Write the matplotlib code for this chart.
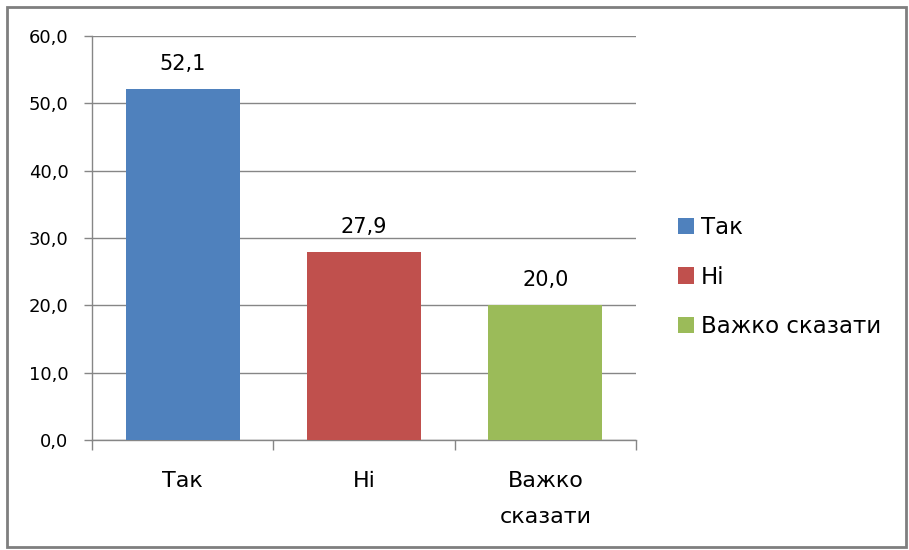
import matplotlib.pyplot as plt
from matplotlib.patches import Rectangle

categories = ["Так", "Ні", "Важко\nсказати"]
legend_labels = ["Так", "Ні", "Важко сказати"]
values = [52.1, 27.9, 20.0]
colors = ["#4F81BD", "#C0504D", "#9BBB59"]
y_ticks = [0, 10, 20, 30, 40, 50, 60]


def comma(v):
    return f"{v:.1f}".replace(".", ",")


plt.rcParams["font.family"] = ["DejaVu Sans"]

W, H = 909, 550
fig = plt.figure(figsize=(W / 100, H / 100), dpi=100)
ax = fig.add_axes([92 / W, (H - 440) / H, (636 - 92) / W, (440 - 36) / H])

x = list(range(len(categories)))
for i in x:
    ax.bar(x[i], values[i], width=0.63, color=colors[i], label=legend_labels[i], zorder=3)
    ax.annotate(comma(values[i]), (x[i], values[i]), xytext=(0, 11),
                textcoords="offset points", ha="center", va="bottom", fontsize=15)

ax.set_xlim(-0.5, len(categories) - 0.5)
ax.set_ylim(0, 60)
ax.set_yticks(y_ticks)
ax.set_yticklabels([comma(v) for v in y_ticks], fontsize=13)
ax.yaxis.grid(True, color="#868686", linewidth=1, zorder=0)

ax.set_xticks(x)
ax.set_xticklabels(categories, fontsize=16, linespacing=2.0, va="top")
ax.set_xticks([i - 0.5 for i in range(len(categories) + 1)], minor=True)
ax.tick_params(axis="x", which="major", length=0, pad=22)
ax.tick_params(axis="x", which="minor", length=7, color="#868686", width=1)
ax.tick_params(axis="y", length=6, color="#868686", width=1, pad=11)

for side in ["top", "right"]:
    ax.spines[side].set_visible(False)
for side in ["left", "bottom"]:
    ax.spines[side].set_color("#868686")
    ax.spines[side].set_linewidth(1)

fig.legend(loc="center left", bbox_to_anchor=(657 / W, 1 - 277 / H), frameon=False,
           fontsize=16.5, handlelength=0.7, handleheight=0.7, handletextpad=0.3,
           labelspacing=1.15)

fig.patches.append(Rectangle((7 / W, 3 / H), 899 / W, 540 / H, transform=fig.transFigure,
                             fill=False, edgecolor="#7f7f7f", linewidth=2))

fig.savefig("out.png", dpi=100)
